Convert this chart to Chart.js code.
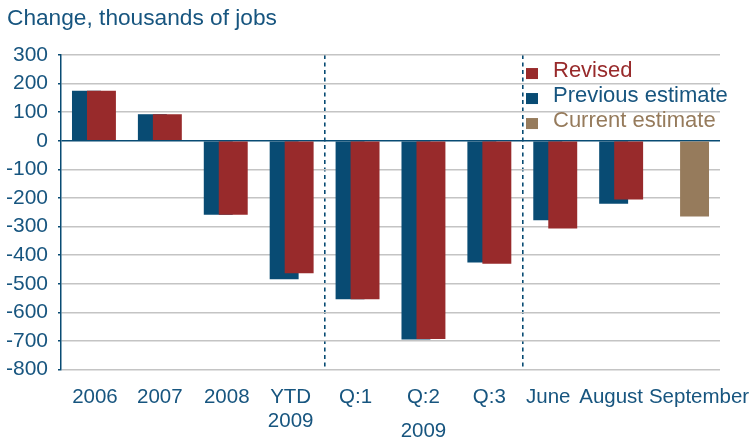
<!DOCTYPE html>
<html><head><meta charset="utf-8">
<script src="https://cdn.jsdelivr.net/npm/chart.js@4"></script>
<style>html,body{margin:0;padding:0;background:#fff}</style>
</head><body><canvas id="c" width="750" height="441"></canvas>
<script>
// ---- data ----
const categories = [['2006'], ['2007'], ['2008'], ['YTD', '2009'], ['Q:1'], ['Q:2'], ['Q:3'], ['June'], ['August'], ['September']];
const quarterGroupLabel = '2009';          // shown beneath the quarterly group (under Q:2)
const revised  = [175, 93, -259, -463, -554, -693, -430, -307, -205, null];
const previous = [175, 93, -259, -484, -554, -695, -426, -278, -220, null];
const current  = [null, null, null, null, null, null, null, null, null, -265];
const yTicksMin = -800, yTicksMax = 300, yStep = 100;
const titleText = 'Change, thousands of jobs';

// ---- styles ----
const BLUE = '#084B73', RED = '#982A2B', BROWN = '#967B5C', TEXT = '#17557F', GRID = '#C4C4C4';
const FONT = 'Liberation Sans, Arial, Helvetica, sans-serif';
const labelShift = [1, 0, 1, -1, -2, 0, 0, -7, -10, 12];

const drawOrderPlugin = {
  id: 'drawOrder',
  beforeDatasetsDraw(chart) {
    const meta = chart.getDatasetMeta(1);
    if (meta && !meta.hidden) meta.controller.draw();
  },
  beforeDatasetDraw(chart, args) {
    if (args.index === 1) return false;
  }
};

const xLabelPlugin = {
  id: 'xLabels',
  afterDraw(chart) {
    const {ctx, chartArea: a} = chart;
    const xs = chart.scales.x;
    ctx.save();
    ctx.font = '20.5px ' + FONT;
    ctx.fillStyle = TEXT;
    ctx.textAlign = 'center';
    ctx.textBaseline = 'middle';
    categories.forEach((lines, i) => {
      const x = xs.getPixelForValue(i) + labelShift[i];
      lines.forEach((t, j) => ctx.fillText(t, x, a.bottom + 28 + j * 24));
    });
    const gx = xs.getPixelForValue(5);
    ctx.fillText(quarterGroupLabel, gx, a.bottom + 62);
    ctx.restore();
  }
};

const legendPlugin = {
  id: 'customLegend',
  afterDraw(chart) {
    const {ctx, chartArea: a} = chart;
    const ds = chart.data.datasets;
    const textColors = [RED, TEXT, BROWN];
    ctx.save();
    ctx.font = '22px ' + FONT;
    ctx.textAlign = 'left';
    ctx.textBaseline = 'middle';
    ds.forEach((d, i) => {
      const y = a.top + 16 + i * 25;
      ctx.fillStyle = d.backgroundColor;
      ctx.fillRect(a.right - 194, y - 3, 12, 11);
      ctx.fillStyle = textColors[i];
      ctx.fillText(d.label, a.right - 167, y);
    });
    ctx.restore();
  }
};

new Chart(document.getElementById('c'), {
  type: 'bar',
  data: {
    labels: categories,
    datasets: [
      {label: 'Revised', data: revised, backgroundColor: RED, stack: 'r', order: 1},
      {label: 'Previous estimate', data: previous, backgroundColor: BLUE, stack: 'p', order: 0},
      {label: 'Current estimate', data: current, backgroundColor: BROWN, stack: 'r', order: 2}
    ]
  },
  options: {
    responsive: false,
    animation: false,
    devicePixelRatio: 1,
    categoryPercentage: 0.455,
    barPercentage: 1.93,
    layout: {padding: {left: 7, right: 30, top: 0, bottom: 0}},
    plugins: {
      legend: {display: false},
      tooltip: {enabled: false},
      title: {
        display: true, text: titleText, align: 'start', color: TEXT,
        font: {family: FONT, size: 22.7, weight: 'normal'},
        padding: {top: 5.5, bottom: 22.3}
      }
    },
    scales: {
      x: {
        offset: true,
        grid: {
          offset: true, drawTicks: false, lineWidth: 1.6,
          color: c => (c.index === 4 || c.index === 7) ? BLUE : 'rgba(0,0,0,0)'
        },
        border: {display: false, dash: [4, 3.5]},
        ticks: {display: false},
        afterFit: s => { s.height = 71.5; }
      },
      y: {
        min: yTicksMin, max: yTicksMax, stacked: false,
        ticks: {stepSize: yStep, color: TEXT, font: {family: FONT, size: 21}, padding: 10},
        grid: {
          drawTicks: true, tickLength: 3, tickColor: BLUE, tickWidth: 1.5,
          color: c => (c.tick && c.tick.value === 0) ? BLUE : GRID,
          lineWidth: 1.5
        },
        border: {color: BLUE, width: 1.5},
        afterFit: s => { s.width = 54; }
      }
    }
  },
  plugins: [drawOrderPlugin, xLabelPlugin, legendPlugin]
});
</script></body></html>
